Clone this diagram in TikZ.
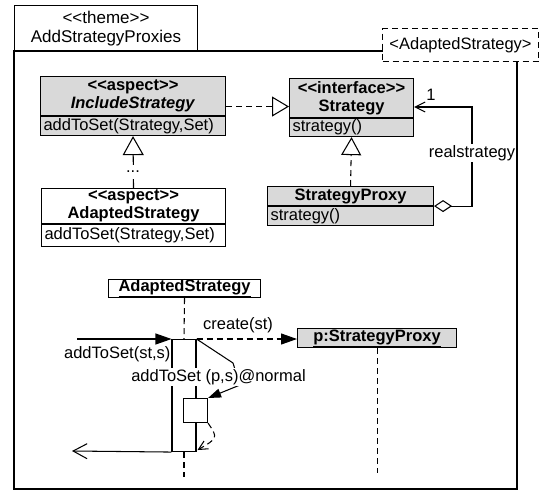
\documentclass[tikz,border=0pt]{standalone}
\usepackage{fontspec}
\setmainfont{Liberation Sans}
\usetikzlibrary{arrows.meta,positioning}
% guillemet-free stereotype brackets
\newcommand\stopen{<\kern0pt<}
\newcommand\stclose{>\kern0pt>}
\begin{document}
\begin{tikzpicture}[x=1pt,y=-1pt,line width=1.05pt,
  font=\fontsize{16.5}{18}\selectfont,
  box/.style={draw,anchor=north west,inner sep=0pt,align=center},
  opbox/.style={draw,anchor=north west,inner xsep=3pt,inner ysep=0pt,align=left},
  shade/.style={fill=gray!30},
  dashline/.style={dash pattern=on 6pt off 4pt},
  realize/.style={dashline,-{Triangle[open,length=17pt,width=20pt]}},
  inherit/.style={-{Triangle[open,length=19pt,width=21pt]}},
  msg/.style={-{Triangle[length=16pt,width=11pt]}},
  ret/.style={-{Straight Barb[length=14pt,width=15pt]}},
  lbl/.style={fill=white,inner sep=1pt}]
\useasboundingbox (0,0) rectangle (540,501);

% theme frame
\node[box,minimum width=183pt,minimum height=46pt,font=\fontsize{17}{19}\selectfont]
  (tab) at (14,5) {\stopen theme\stclose\\AddStrategyProxies};
\coordinate (frameNW) at (14,51);
\coordinate (frameSE) at (517,489);
\draw (frameNW) rectangle (frameSE);
\node[box,dashline,fill=white,minimum width=156pt,minimum height=33pt]
  (tpl) at (382,28) {<AdaptedStrategy>};

% class diagram
\node[box,shade,minimum width=185pt,minimum height=39pt] (inchead) at (40,76)
  {\textbf{\stopen aspect\stclose}\\\textbf{\textit{IncludeStrategy}}};
\node[opbox,shade,text width=179pt,minimum height=19pt] (incop) at (inchead.south west)
  {addToSet(Strategy,Set)};

\node[box,shade,minimum width=124pt,minimum height=39pt] (strathead) at (289,78)
  {\textbf{\stopen interface\stclose}\\\textbf{Strategy}};
\node[opbox,shade,text width=118pt,minimum height=18pt] (stratop) at (strathead.south west)
  {strategy()};

\node[box,shade,minimum width=166pt,minimum height=19pt] (proxyhead) at (267,186)
  {\textbf{StrategyProxy}};
\node[opbox,shade,text width=160pt,minimum height=19pt] (proxyop) at (proxyhead.south west)
  {strategy()};

\node[box,fill=white,minimum width=184pt,minimum height=35pt] (adhead) at (41,188)
  {\textbf{\stopen aspect\stclose}\\\textbf{AdaptedStrategy}};
\node[opbox,fill=white,text width=178pt,minimum height=22pt] (adop) at (adhead.south west)
  {addToSet(Strategy,Set)};

% class relations
\draw[realize] ([yshift=-10.5pt]inchead.east) -- ([yshift=-10.5pt]inchead.east -| strathead.west);
\draw[inherit] (adhead.north) -- (incop.south);
\node[lbl,inner sep=0pt,minimum height=14pt] (dots) at (133,172) {...};
\draw[realize,-{Triangle[open,length=18pt,width=20pt]}] (proxyhead.north) -- (stratop.south);
\coordinate (aggcorner) at (472,107);
\draw[{Diamond[open,length=18pt,width=12pt]}-{Straight Barb[length=10pt,width=10pt]}]
  (proxyhead.south east) -| (aggcorner) -- (aggcorner -| strathead.east);
\node[lbl] (rolelbl) at (472,153) {realstrategy};
\node (mult) at (431,95) {1};

% sequence diagram
\node[box,fill=white,minimum width=152pt,minimum height=18pt] (seqobj) at (108,279)
  {\underline{\textbf{AdaptedStrategy}}};
\node[box,shade,minimum width=159pt,minimum height=19pt] (pobj) at (297,328)
  {\underline{\textbf{p:StrategyProxy}}};
\node[draw,fill=white,anchor=north,minimum width=24pt,minimum height=112pt,inner sep=0pt]
  (act) at (184,339) {};
\coordinate (lifeEnd) at (184,477);
\coordinate (pLifeEnd) at (pobj.south |- 0,473);
\draw[dashline] (seqobj.south) -- (act.north);
\draw[dashline] (act.south) -- (lifeEnd);
\draw[dashline] (pobj.south) -- (pLifeEnd);

\coordinate (inStart) at (77,339);
\draw[msg] (inStart) -- (act.north west);
\node[anchor=east,inner sep=1pt] (inlbl) at (172,354) {addToSet(st,s)};

\draw[dashline,msg] (act.north east) -- (act.north east -| pobj.west);
\node (createlbl) at (238,325) {create(st)};

\node[draw,fill=white,anchor=north west,minimum size=24pt,inner sep=0pt] (nest) at (183,398) {};
\coordinate (bendA) at (233,363);
\coordinate (bendB) at (240,385);
\draw[-{Triangle[length=13pt,width=9pt]}] (act.north east) -- (bendA) -- (bendB) -- (nest.north east);
\node[lbl,inner sep=1.5pt] (selflbl) at (218.5,377) {addToSet (p,s)@normal};
\coordinate (retCtrl) at (218,438);
\draw[dashline,-{Straight Barb[length=9pt,width=9pt]}] (nest.south east) .. controls (retCtrl) .. ([xshift=1pt,yshift=2pt]act.south east);

\coordinate (outEnd) at (72,451);
\draw[ret] (act.south west) -- (outEnd);
\end{tikzpicture}
\end{document}
